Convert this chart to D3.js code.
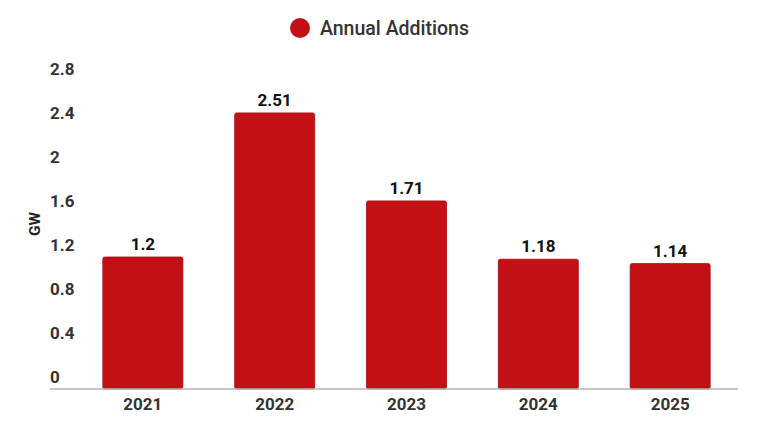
<!DOCTYPE html>
<html>
<head>
<meta charset="utf-8">
<script src="https://cdn.jsdelivr.net/npm/d3@7"></script>
<style>
  body { margin: 0; background: #fff; }
  svg { display: block; font-family: Roboto, "Noto Sans", sans-serif; }
</style>
</head>
<body>
<div id="chart"></div>
<script>
var years = ["2021", "2022", "2023", "2024", "2025"];
var additions = [1.2, 2.51, 1.71, 1.18, 1.14];
var yTicks = [0, 0.4, 0.8, 1.2, 1.6, 2, 2.4, 2.8];
var seriesName = "Annual Additions";

var width = 774, height = 428;
var barColor = "#c21014";

var svg = d3.select("#chart").append("svg")
    .attr("width", width)
    .attr("height", height);

var x = d3.scaleBand()
    .domain(years)
    .range([77, 736])
    .paddingInner(0.393)
    .paddingOuter(0.196);

var y = d3.scaleLinear()
    .domain([0, 2.8])
    .range([389, 81]);

// legend
var legend = svg.append("g");
legend.append("circle")
    .attr("cx", 300).attr("cy", 28).attr("r", 10)
    .attr("fill", barColor);
legend.append("text")
    .attr("x", 320).attr("y", 28)
    .attr("dy", "0.35em")
    .attr("font-size", 19.5)
    .attr("font-weight", 500)
    .attr("fill", "#333")
    .text(seriesName);

// y tick labels sit a bit above their value, left aligned
svg.append("g")
    .selectAll("text")
    .data(yTicks)
    .enter()
    .append("text")
    .attr("x", 50)
    .attr("y", function (d) { return y(d) - 12; })
    .attr("dy", "0.35em")
    .attr("font-size", 17)
    .attr("font-weight", 700)
    .attr("fill", "#333")
    .text(function (d) { return d3.format("~g")(d); });

// y title
svg.append("text")
    .attr("transform", "translate(35,224) rotate(-90)")
    .attr("text-anchor", "middle")
    .attr("dy", "0.35em")
    .attr("font-size", 15.5)
    .attr("font-weight", 700)
    .attr("fill", "#222")
    .text("GW");

// bars
svg.append("g")
    .selectAll("rect")
    .data(additions)
    .enter()
    .append("rect")
    .attr("x", function (d, i) { return x(years[i]); })
    .attr("y", function (d) { return y(d); })
    .attr("width", x.bandwidth())
    .attr("height", function (d) { return y(0) - y(d); })
    .attr("rx", 2)
    .attr("fill", barColor)
    .attr("stroke", "#a80d10")
    .attr("stroke-width", 0.8);

// value labels
svg.append("g")
    .selectAll("text")
    .data(additions)
    .enter()
    .append("text")
    .attr("x", function (d, i) { return x(years[i]) + x.bandwidth() / 2; })
    .attr("y", function (d) { return y(d) - 13; })
    .attr("dy", "0.35em")
    .attr("text-anchor", "middle")
    .attr("font-size", 17)
    .attr("font-weight", 700)
    .attr("fill", "#111")
    .text(function (d) { return d; });

// x axis
var xAxis = svg.append("g")
    .attr("transform", "translate(0,389)")
    .call(d3.axisBottom(x).tickSize(0).tickPadding(9));
xAxis.select(".domain").remove();
xAxis.append("line")
    .attr("x1", 50).attr("x2", 738)
    .attr("stroke", "#b5b5b5")
    .attr("stroke-width", 1.5);
xAxis.selectAll("text")
    .attr("font-family", "Roboto, 'Noto Sans', sans-serif")
    .attr("font-size", 17)
    .attr("font-weight", 700)
    .attr("fill", "#333");
</script>
</body>
</html>
